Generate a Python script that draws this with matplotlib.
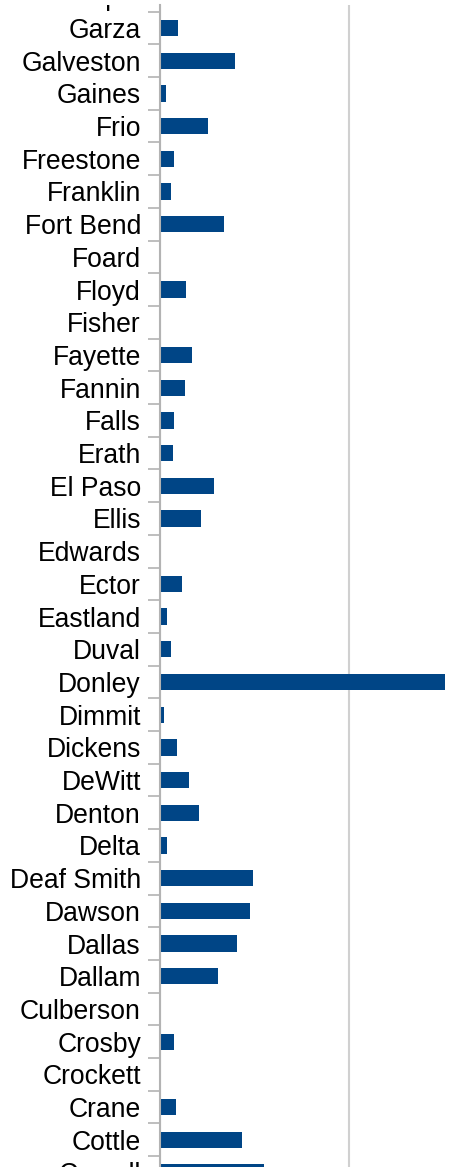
import matplotlib.pyplot as plt
import numpy as np
from matplotlib.transforms import Bbox, TransformedBbox

plt.rcParams['font.family'] = ['Liberation Sans', 'DejaVu Sans']

# categories, top to bottom (chart is cropped: Gillespie and Coryell only partly shown)
counties = ["Gillespie", "Garza", "Galveston", "Gaines", "Frio", "Freestone", "Franklin",
            "Fort Bend", "Foard", "Floyd", "Fisher", "Fayette", "Fannin", "Falls",
            "Erath", "El Paso", "Ellis", "Edwards", "Ector", "Eastland", "Duval",
            "Donley", "Dimmit", "Dickens", "DeWitt", "Denton", "Delta", "Deaf Smith",
            "Dawson", "Dallas", "Dallam", "Culberson", "Crosby", "Crockett", "Crane",
            "Cottle", "Coryell"]
values = [0.0, 9.4, 39.7, 3.2, 25.4, 7.4, 5.8,
          33.9, 0.0, 13.8, 0.0, 16.9, 13.2, 7.4,
          6.9, 28.6, 21.7, 0.0, 11.6, 3.7, 5.8,
          150.8, 2.1, 9.0, 15.3, 20.6, 3.7, 49.2,
          47.6, 40.7, 30.7, 0.0, 7.4, 0.0, 8.5,
          43.4, 55.0]

W, H = 457, 1167
fig = plt.figure(figsize=(W / 100, H / 100), dpi=100)

# axes geometry in pixels (plot area extends past the crop)
left_px, top_px = 160, 5
step = 32.7
ytop, ybot = 0.297, 36.5
ax_h = (ybot - ytop) * step
ax_w = 378
ax = fig.add_axes([left_px / W, 1 - (top_px + ax_h) / H, ax_w / W, ax_h / H])

y = np.arange(len(counties))
ax.barh(y, values, height=0.5, color="#004586", zorder=3)

ax.set_xticks([0, 100, 200])
ax.tick_params(axis="x", length=0, labelbottom=False)
ax.grid(axis="x", color="#d0d0d0", linewidth=1.5, zorder=0)

label_size = 19.1
label_pad = 13.7
ax.set_yticks(y)
ax.set_yticklabels(counties, fontsize=label_size, color="#000000")
ax.tick_params(axis="y", which="major", length=0, pad=label_pad)
ax.set_yticks(np.arange(-0.5, len(counties), 1.0), minor=True)
ax.tick_params(axis="y", which="minor", length=8.6, width=1.2, color="#b3b3b3",
               direction="out")

# limits last, set_yticks would widen them
ax.set_ylim(ybot, ytop)
ax.set_xlim(0, 200)

# first label sits just above the plot area, so tick labelling skips it;
# in the reference it is cut at the top of the plot area
ann = ax.annotate(counties[0], xy=(0, y[0]), xycoords=ax.get_yaxis_transform(),
                  xytext=(-label_pad, 0), textcoords="offset points",
                  ha="right", va="center_baseline", fontsize=label_size,
                  annotation_clip=False)
ann.set_clip_on(True)
ann.set_clip_box(TransformedBbox(Bbox([[0, 0], [1, 1 - top_px / H]]), fig.transFigure))

for s in ["top", "right", "bottom"]:
    ax.spines[s].set_visible(False)
ax.spines["left"].set_color("#b3b3b3")
ax.spines["left"].set_linewidth(1.5)
ax.spines["left"].set_zorder(4)

fig.savefig("out.png", dpi=100)
